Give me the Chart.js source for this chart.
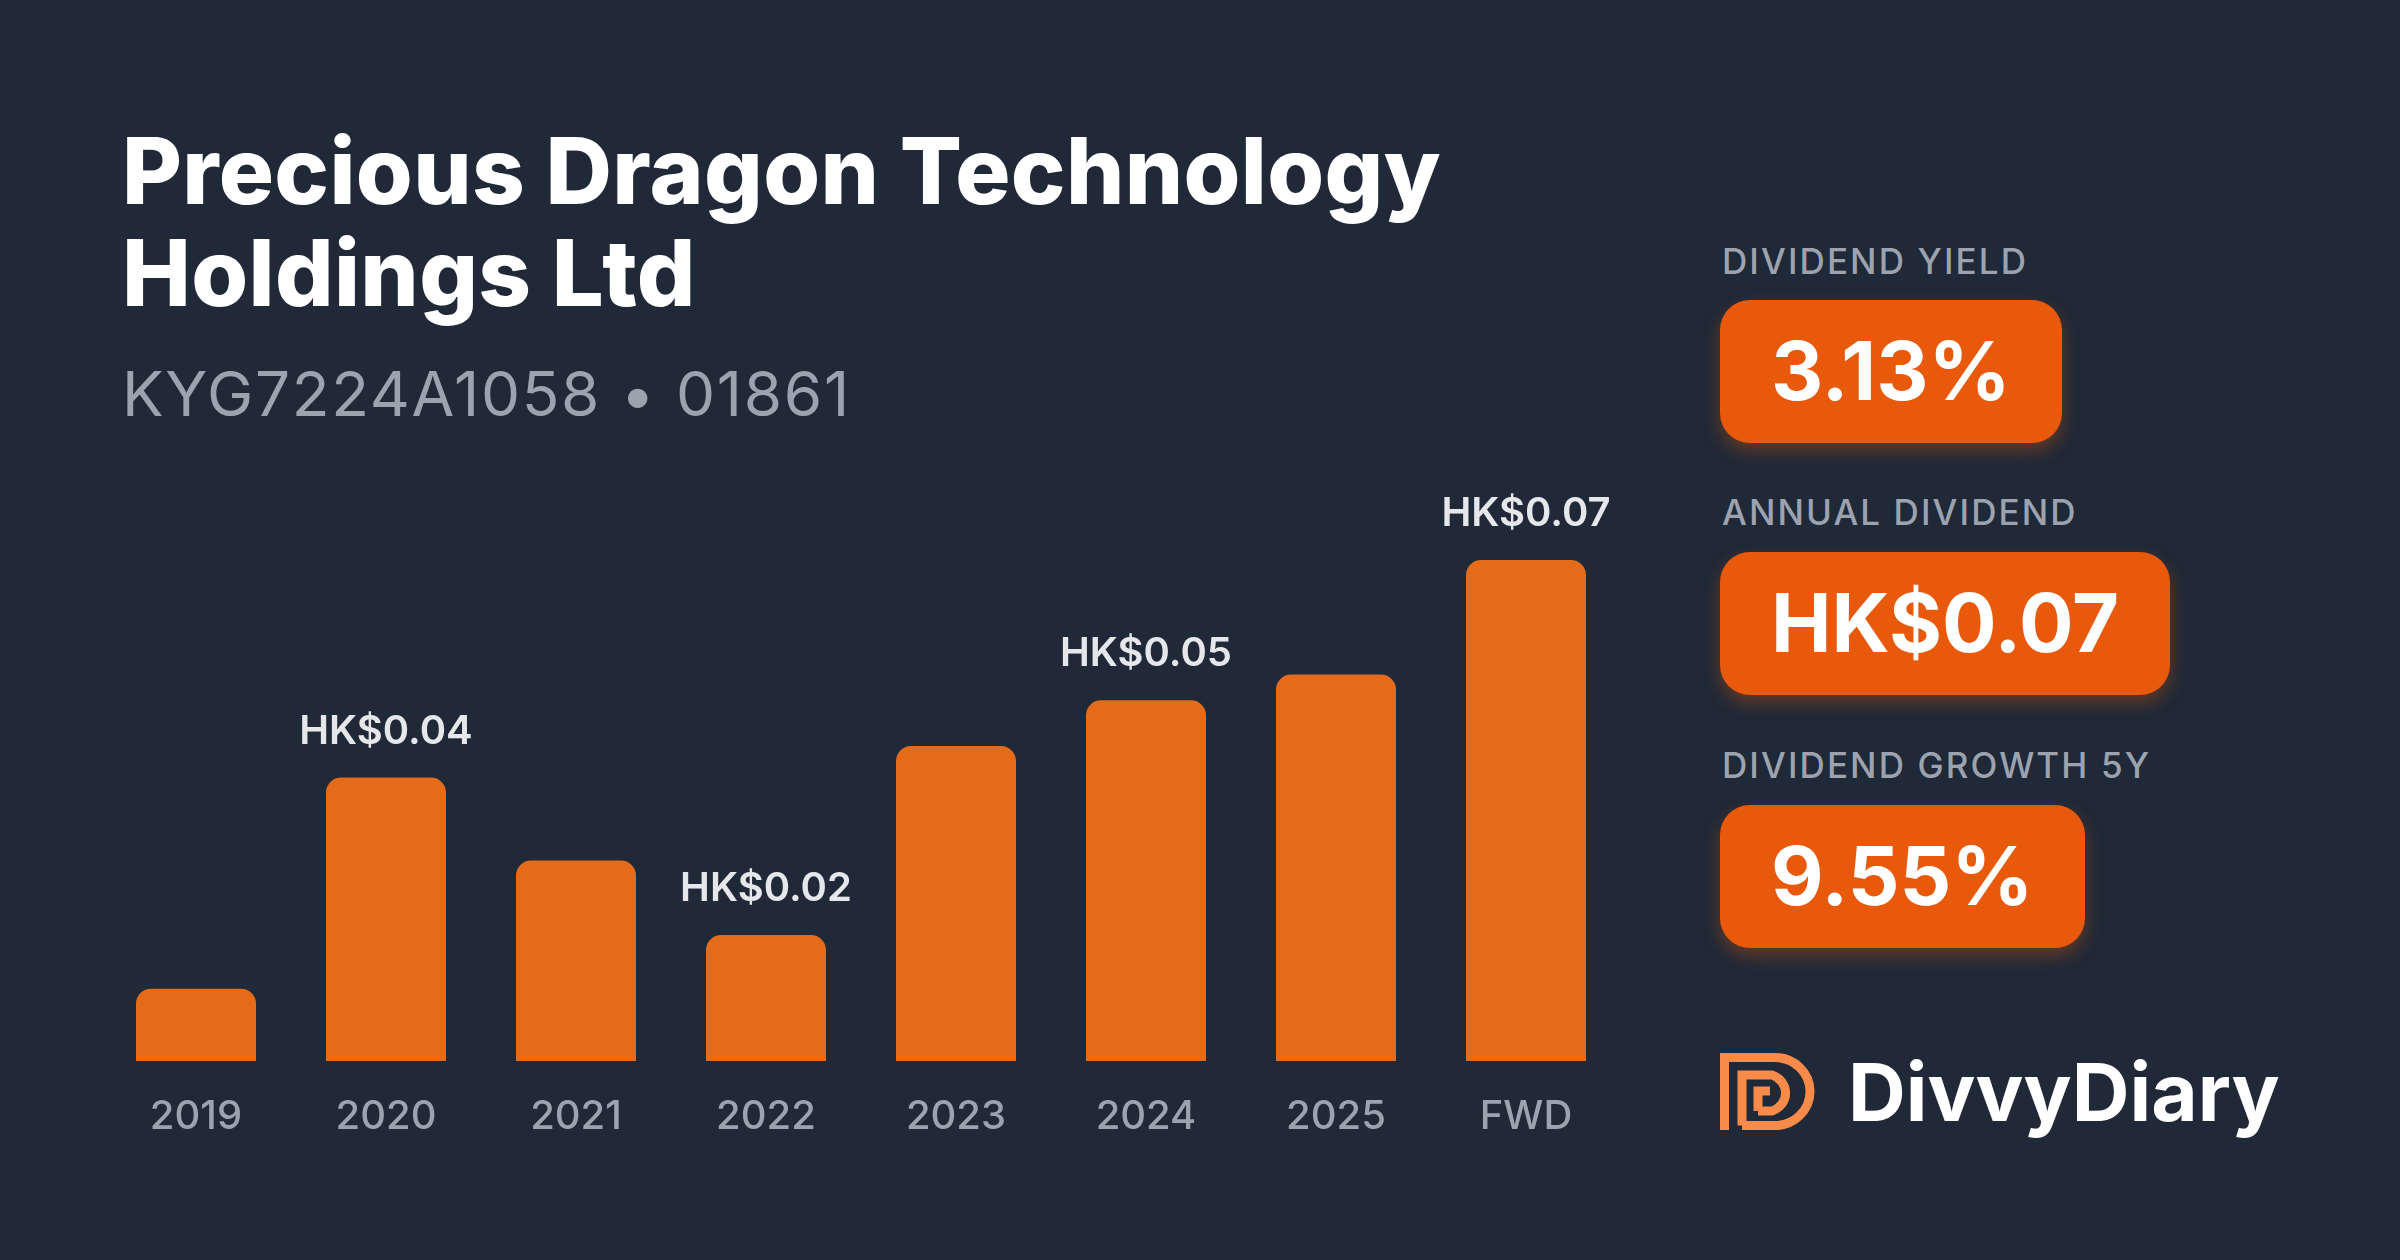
<!DOCTYPE html>
<html>
<head>
<meta charset="utf-8">
<script src="https://cdn.jsdelivr.net/npm/chart.js@4.4.1/dist/chart.umd.min.js"></script>
<style>
  html, body { margin: 0; padding: 0; }
  body {
    width: 2400px; height: 1260px; overflow: hidden;
    background: #1f2937;
    font-family: Inter, "Noto Sans", sans-serif;
    position: relative;
  }
  .abs { position: absolute; white-space: nowrap; }
  #title {
    left: 122px; top: 120px;
    font-size: 92px; line-height: 102px; font-weight: 800;
    color: #ffffff; letter-spacing: 0.35px;
  }
  #subtitle {
    left: 122px; top: 363px;
    font-size: 62px; line-height: 1; font-weight: 400;
    color: #9ca3af; letter-spacing: 1.7px;
  }
  .stat-label {
    left: 1722px;
    font-size: 35px; line-height: 1; font-weight: 500;
    color: #9ca3af; letter-spacing: 0.06em;
  }
  .pill {
    left: 1720px; height: 143px; line-height: 143px;
    padding: 0 51px; border-radius: 30px;
    background: #e8590c; color: #ffffff;
    font-size: 81px; font-weight: 700;
    box-shadow: 0 8px 18px rgba(232, 89, 12, 0.35);
  }
  #logo-text {
    left: 1848px; top: 1052px;
    font-size: 80px; line-height: 1; font-weight: 700; color: #ffffff;
  }
  #logo-icon { left: 1720px; top: 1053px; }
  #chart-wrap { left: 101px; top: 440px; width: 1520px; height: 753px; }
</style>
</head>
<body>
<div id="title" class="abs">Precious Dragon Technology<br>Holdings Ltd</div>
<div id="subtitle" class="abs">KYG7224A1058 • 01861</div>

<div class="abs stat-label" style="top:244px">DIVIDEND YIELD</div>
<div class="abs pill" style="top:300px">3.13%</div>
<div class="abs stat-label" style="top:495px">ANNUAL DIVIDEND</div>
<div class="abs pill" style="top:552px">HK$0.07</div>
<div class="abs stat-label" style="top:748px">DIVIDEND GROWTH 5Y</div>
<div class="abs pill" style="top:805px">9.55%</div>

<svg id="logo-icon" class="abs" width="95" height="77" viewBox="0 0 95 77">
  <g fill="none" stroke="#f98b4a" stroke-width="9">
    <path d="M4.5,77 V4.5 H55 A35,34 0 0 1 55,72.5 H22"/>
    <path d="M22,72.5 V22 H52 A20,19 0 0 1 52,58 H38"/>
    <path d="M38,58 V38 H50"/>
  </g>
</svg>
<div id="logo-text" class="abs">DivvyDiary</div>

<div id="chart-wrap" class="abs">
  <canvas id="divChart" width="1520" height="753"></canvas>
</div>

<script>
// dividend per year (HK$)
const categories = ['2019', '2020', '2021', '2022', '2023', '2024', '2025', 'FWD'];
const dividends = [0.0101, 0.0396, 0.028, 0.0176, 0.044, 0.0504, 0.054, 0.07];
const barLabels = ['', 'HK$0.04', '', 'HK$0.02', '', 'HK$0.05', '', 'HK$0.07'];

// value text above some of the bars
const valueLabels = {
  id: 'valueLabels',
  afterDatasetsDraw(chart) {
    const ctx = chart.ctx;
    const bars = chart.getDatasetMeta(0).data;
    ctx.save();
    ctx.font = '600 40px Inter';
    ctx.fillStyle = '#e5e7eb';
    ctx.textAlign = 'center';
    ctx.textBaseline = 'alphabetic';
    bars.forEach(function (bar, i) {
      if (barLabels[i]) ctx.fillText(barLabels[i], bar.x, bar.y - 34);
    });
    ctx.restore();
  }
};

const ctx = document.getElementById('divChart').getContext('2d');
const divChart = new Chart(ctx, {
  type: 'bar',
  data: {
    labels: categories,
    datasets: [{
      data: dividends,
      backgroundColor: '#e36b19',
      borderRadius: { topLeft: 15, topRight: 15 },
      borderSkipped: 'start',
      barPercentage: 120 / 190,
      categoryPercentage: 1
    }]
  },
  options: {
    responsive: false,
    animation: false,
    layout: { padding: { top: 120, bottom: 20, left: 0, right: 0 } },
    plugins: { legend: { display: false }, tooltip: { enabled: false } },
    scales: {
      x: {
        grid: { display: false, drawTicks: false },
        border: { display: false },
        ticks: {
          color: '#9ca3af',
          padding: 32,
          font: { family: 'Inter', size: 40, weight: 500 }
        }
      },
      y: {
        display: false,
        min: 0,
        max: Math.max.apply(null, dividends)
      }
    }
  },
  plugins: [valueLabels]
});
</script>
</body>
</html>
